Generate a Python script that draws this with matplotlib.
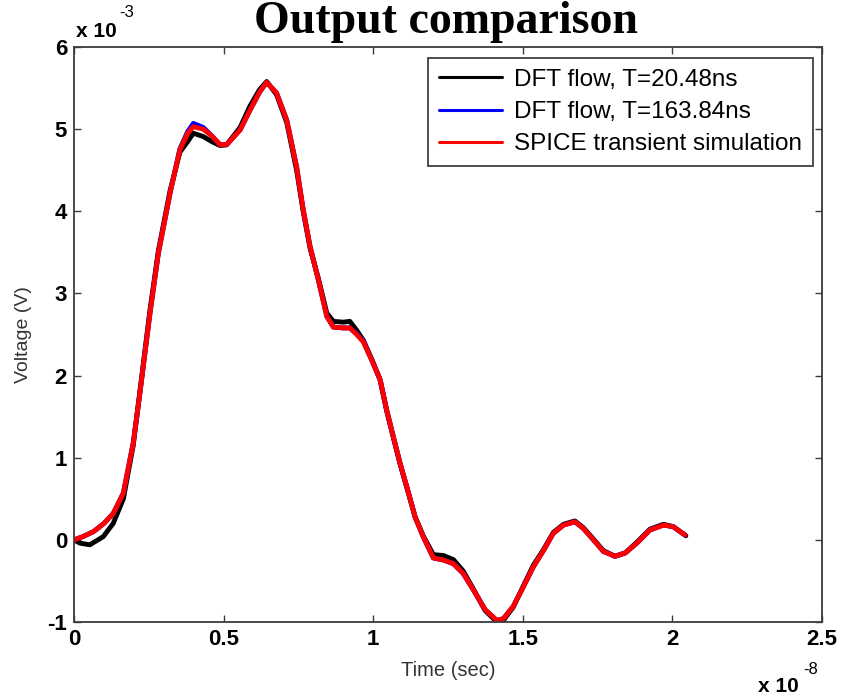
import matplotlib
matplotlib.use("Agg")
import matplotlib.pyplot as plt
from matplotlib.ticker import FixedLocator, FuncFormatter

# Time in units of 1e-8 s, voltage in units of 1e-3 V
t_spice = [0, 0.03, 0.065, 0.10, 0.131, 0.165, 0.198, 0.22, 0.254, 0.282, 0.321,
           0.354, 0.38, 0.399, 0.432, 0.46, 0.488, 0.51, 0.555, 0.588, 0.62, 0.644,
           0.677, 0.711, 0.744, 0.766, 0.789, 0.817, 0.845, 0.867, 0.90, 0.922, 0.945,
           0.967, 0.995, 1.023, 1.045, 1.067, 1.090, 1.112, 1.140, 1.167, 1.201, 1.234,
           1.268, 1.301, 1.335, 1.374, 1.413, 1.435, 1.468, 1.502, 1.535, 1.569, 1.602,
           1.636, 1.674, 1.702, 1.736, 1.769, 1.808, 1.842, 1.881, 1.925, 1.970, 2.003,
           2.042]
v_spice = [0.0, 0.04, 0.10, 0.20, 0.32, 0.57, 1.18, 1.78, 2.76, 3.49, 4.22,
           4.75, 4.95, 5.03, 5.00, 4.92, 4.81, 4.81, 4.99, 5.23, 5.45, 5.57,
           5.44, 5.11, 4.54, 4.02, 3.57, 3.16, 2.72, 2.59, 2.58, 2.58, 2.50,
           2.41, 2.19, 1.95, 1.58, 1.26, 0.93, 0.65, 0.28, 0.04, -0.22, -0.245,
           -0.29, -0.41, -0.61, -0.85, -0.98, -0.96, -0.81, -0.57, -0.33, -0.13, 0.08,
           0.18, 0.22, 0.14, 0.00, -0.14, -0.20, -0.16, -0.04, 0.12, 0.18, 0.16,
           0.06]

t_dft1 = [0, 0.02, 0.053, 0.098, 0.131, 0.165, 0.198, 0.22, 0.254, 0.282, 0.321,
          0.354, 0.38, 0.399, 0.432, 0.46, 0.488, 0.51, 0.555, 0.588, 0.62, 0.644,
          0.677, 0.711, 0.744, 0.766, 0.789, 0.817, 0.845, 0.867, 0.90, 0.922, 0.945,
          0.967, 0.995, 1.023, 1.045, 1.067, 1.090, 1.112, 1.140, 1.167, 1.201, 1.234,
          1.268, 1.301, 1.335, 1.374, 1.413, 1.435, 1.468, 1.502, 1.535, 1.569, 1.602,
          1.636, 1.674, 1.702, 1.736, 1.769, 1.808, 1.842, 1.881, 1.925, 1.970, 2.003,
          2.045]
v_dft1 = [0.0, -0.04, -0.06, 0.04, 0.20, 0.50, 1.15, 1.80, 2.80, 3.52, 4.25,
          4.72, 4.85, 4.95, 4.91, 4.85, 4.80, 4.81, 5.02, 5.28, 5.48, 5.58,
          5.42, 5.08, 4.50, 4.00, 3.55, 3.18, 2.76, 2.66, 2.65, 2.66, 2.55,
          2.43, 2.20, 1.95, 1.57, 1.25, 0.92, 0.64, 0.28, 0.05, -0.18, -0.19,
          -0.24, -0.38, -0.60, -0.86, -1.00, -0.98, -0.82, -0.56, -0.31, -0.12, 0.09,
          0.19, 0.23, 0.15, 0.01, -0.13, -0.20, -0.16, -0.03, 0.13, 0.19, 0.16,
          0.05]

t_dft2 = t_spice
v_dft2 = [0.0, 0.04, 0.10, 0.20, 0.32, 0.57, 1.18, 1.78, 2.76, 3.49, 4.22,
          4.76, 4.97, 5.07, 5.02, 4.92, 4.81, 4.81, 4.99, 5.23, 5.45, 5.57,
          5.44, 5.11, 4.54, 4.02, 3.57, 3.16, 2.72, 2.59, 2.58, 2.58, 2.51,
          2.42, 2.19, 1.95, 1.58, 1.26, 0.93, 0.65, 0.28, 0.04, -0.22, -0.245,
          -0.29, -0.41, -0.61, -0.85, -0.98, -0.96, -0.81, -0.57, -0.33, -0.13, 0.08,
          0.18, 0.22, 0.14, 0.00, -0.14, -0.20, -0.16, -0.04, 0.12, 0.18, 0.16,
          0.06]

labels = ["DFT flow, T=20.48ns", "DFT flow, T=163.84ns", "SPICE transient simulation"]
colors = ["#000000", "#0000ff", "#ff0000"]
x_ticks = [0, 0.5, 1, 1.5, 2, 2.5]
y_ticks = [-1, 0, 1, 2, 3, 4, 5, 6]

W, H = 842, 699
fig = plt.figure(figsize=(W / 100, H / 100), dpi=100)
L, R, T, B = 74, 822, 47, 622
ax = fig.add_axes([L / W, 1 - B / H, (R - L) / W, (B - T) / H])

series = [(t_dft1, v_dft1), (t_dft2, v_dft2), (t_spice, v_spice)]
for (tx, vy), lab, c in zip(series, labels, colors):
    ax.plot(tx, vy, color=c, lw=3.5, label=lab, solid_joinstyle="round",
            solid_capstyle="round")

ax.set_xlim(0, 2.5)
ax.set_ylim(-1, 6)
ax.xaxis.set_major_locator(FixedLocator(x_ticks))
ax.yaxis.set_major_locator(FixedLocator(y_ticks))
fmt = FuncFormatter(lambda v, p: ("%g" % v))
ax.xaxis.set_major_formatter(fmt)
ax.yaxis.set_major_formatter(fmt)

spine_c = "#3c3c3c"
for s in ax.spines.values():
    s.set_color(spine_c)
    s.set_linewidth(1.3)
ax.tick_params(direction="in", length=5, width=1.0, color=spine_c,
               top=True, right=True, labelsize=16, pad=5)
for lbl in ax.get_xticklabels() + ax.get_yticklabels():
    lbl.set_fontweight("bold")
    lbl.set_family("Liberation Sans")

ax.set_xlabel("Time (sec)", fontsize=14.5, family="Liberation Sans", color="#333333")
ax.xaxis.set_label_coords(0.5, -0.068)
ax.set_ylabel("Voltage (V)", fontsize=14, family="Liberation Sans", color="#333333")
ax.yaxis.set_label_coords(-0.056, 0.5)

leg = ax.legend(loc="upper right", bbox_to_anchor=((813 - L) / (R - L), (B - 58) / (B - T)),
                borderaxespad=0, fancybox=False, framealpha=1,
                prop={"family": "Liberation Sans", "size": 17.5},
                handlelength=2.6, handletextpad=0.5, labelspacing=0.42,
                borderpad=0.45)
leg.get_frame().set_edgecolor("#404040")
leg.get_frame().set_linewidth(1.3)
for ln in leg.get_lines():
    ln.set_linewidth(2.2)

# Title
fig.text(0.53, 1 - 33 / H, "Output comparison", ha="center", va="baseline",
         fontsize=33, fontweight="bold", family="Liberation Serif")

# Exponent multipliers
fig.text(76 / W, 1 - 37 / H, "x 10", ha="left", va="baseline", fontsize=15,
         fontweight="bold", family="Liberation Sans")
fig.text(119 / W, 1 - 17 / H, "-3", ha="left", va="baseline", fontsize=12,
         family="Liberation Sans")
fig.text(758 / W, 1 - 692 / H, "x 10", ha="left", va="baseline", fontsize=15,
         fontweight="bold", family="Liberation Sans")
fig.text(803 / W, 1 - 674 / H, "-8", ha="left", va="baseline", fontsize=12,
         family="Liberation Sans")

fig.savefig("out.png", dpi=100)
